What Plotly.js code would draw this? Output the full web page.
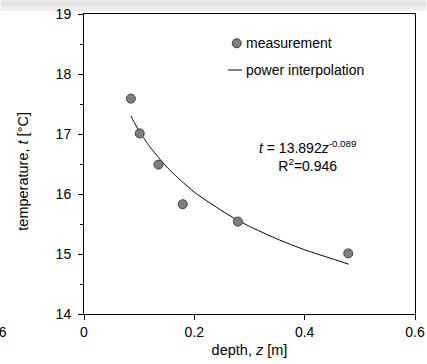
<!DOCTYPE html>
<html>
<head>
<meta charset="utf-8">
<script src="https://cdn.plot.ly/plotly-3.0.1.min.js"></script>
<style>html,body{margin:0;padding:0;background:#fff;}#chart{width:427px;height:364px;}</style>
</head>
<body>
<div id="chart"></div>
<script>
// measured points
var depth = [0.085, 0.101, 0.135, 0.179, 0.279, 0.479];
var temperature = [17.59, 17.01, 16.49, 15.83, 15.54, 15.01];
// power interpolation curve
var fitDepth = [0.085, 0.09, 0.10, 0.11, 0.12, 0.135, 0.15, 0.175, 0.20, 0.225, 0.25, 0.275, 0.30, 0.35, 0.40, 0.45, 0.48];
var fitTemp = [17.30, 17.21, 17.05, 16.91, 16.78, 16.61, 16.45, 16.23, 16.03, 15.87, 15.72, 15.58, 15.46, 15.25, 15.07, 14.92, 14.83];
var xTicks = [0, 0.2, 0.4, 0.6];
var yTicks = [14, 15, 16, 17, 18, 19];

var FONT = 'Liberation Sans, Arial, sans-serif';
var L = 83.5, T = 14, W = 332, H = 300;
function px(x){ return (x - L) / W; }
function py(y){ return (T + H - y) / H; }

var traces = [
  {x: fitDepth, y: fitTemp, mode: 'lines', line: {color: '#000', width: 1, shape: 'spline', smoothing: 0.6}, hoverinfo: 'skip', showlegend: false},
  {x: depth, y: temperature, mode: 'markers', marker: {size: 9, color: '#7f7f7f', line: {color: '#3a3a3a', width: 1}}, showlegend: false}
];

var layout = {
  width: 427, height: 364,
  margin: {l: 84, r: 11.5, t: 14, b: 50},
  paper_bgcolor: '#fff', plot_bgcolor: '#fff',
  font: {family: FONT, size: 14, color: '#000'},
  showlegend: false,
  xaxis: {
    range: [0, 0.6], tickvals: xTicks, ticktext: xTicks.map(String),
    showgrid: false, zeroline: false, showline: true, linecolor: '#000', linewidth: 1, mirror: true,
    ticks: 'outside', ticklen: 5, tickcolor: '#000',
    tickfont: {family: FONT, size: 14},
    title: {text: 'depth, <i>z</i> [m]', font: {family: FONT, size: 14.5}, standoff: 6}
  },
  yaxis: {
    range: [14, 19], tickvals: yTicks, ticktext: yTicks.map(String),
    showgrid: false, zeroline: false, showline: true, linecolor: '#000', linewidth: 1, mirror: true,
    ticks: 'outside', ticklen: 5, tickcolor: '#000', ticklabelstandoff: 4,
    minor: {dtick: 0.5, ticks: 'outside', ticklen: 3, tickcolor: '#000', showgrid: false},
    tickfont: {family: FONT, size: 14}
  },
  shapes: [
    {type: 'rect', xref: 'paper', yref: 'paper', layer: 'below', x0: px(0), x1: px(427), y0: py(0), y1: py(2), fillcolor: '#ebebeb', line: {width: 0}},
    {type: 'rect', xref: 'paper', yref: 'paper', layer: 'below', x0: px(0), x1: px(427), y0: py(2), y1: py(6), fillcolor: '#e3e3e3', line: {width: 0}},
    {type: 'rect', xref: 'paper', yref: 'paper', layer: 'below', x0: px(0), x1: px(427), y0: py(6), y1: py(11), fillcolor: '#efefef', line: {width: 0}},
    {type: 'circle', xref: 'paper', yref: 'paper', xsizemode: 'pixel', ysizemode: 'pixel',
     xanchor: px(236.7), yanchor: py(43.3), x0: -4.5, x1: 4.5, y0: -4.5, y1: 4.5,
     fillcolor: '#7f7f7f', line: {color: '#3a3a3a', width: 1}},
    {type: 'line', xref: 'paper', yref: 'paper', x0: px(228), x1: px(242), y0: py(70), y1: py(70), line: {color: '#000', width: 1}}
  ],
  annotations: [
    {xref: 'paper', yref: 'paper', x: px(22), y: py(171), xanchor: 'center', yanchor: 'middle', textangle: -90, showarrow: false, text: 'temperature, <i>t</i> [°C]', font: {family: FONT, size: 14.5}},
    {xref: 'paper', yref: 'paper', x: px(243.5), y: py(43.3), xanchor: 'left', yanchor: 'middle', showarrow: false, text: 'measurement', font: {family: FONT, size: 14}},
    {xref: 'paper', yref: 'paper', x: px(243.5), y: py(70), xanchor: 'left', yanchor: 'middle', showarrow: false, text: 'power interpolation', font: {family: FONT, size: 14}},
    {xref: 'paper', yref: 'paper', x: px(307.5), y: py(155.5), xanchor: 'center', yanchor: 'middle', showarrow: false, align: 'center',
     text: '<i>t</i> = 13.892<i>z</i><sup>-0.089</sup><br>R<sup>2</sup>=0.946', font: {family: FONT, size: 14}},
    {xref: 'paper', yref: 'paper', x: px(8.5), y: py(332), xanchor: 'right', yanchor: 'middle', showarrow: false, text: '0.6', font: {family: FONT, size: 14}}
  ]
};

Plotly.newPlot('chart', traces, layout, {displayModeBar: false, staticPlot: true});
</script>
</body>
</html>
